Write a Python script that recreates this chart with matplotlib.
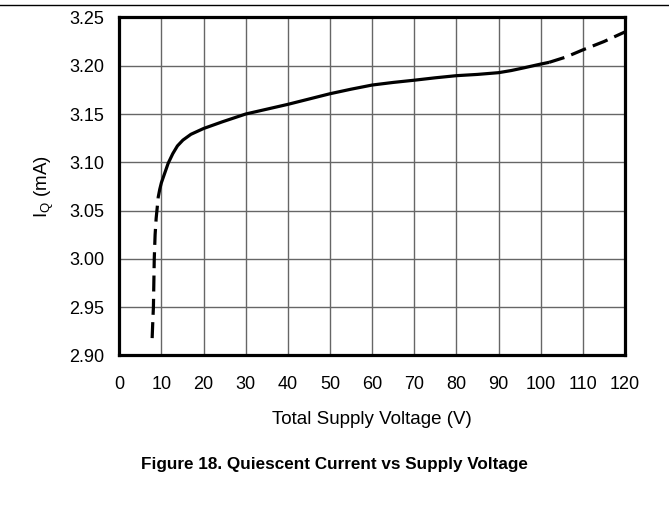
import matplotlib
matplotlib.use("Agg")
import matplotlib.pyplot as plt
from matplotlib.lines import Line2D

plt.rcParams['font.family'] = ['Liberation Sans', 'DejaVu Sans']

# Data
v_low = [7.8, 7.95, 8.1, 8.3, 8.5, 8.75, 9.0, 9.2]
i_low = [2.918, 2.935, 2.95, 3.00, 3.025, 3.042, 3.053, 3.063]

v_mid = [9.2, 9.6, 10.0, 10.4, 10.8, 11.6, 12.7, 13.8, 15.1, 17.0, 20, 24.5, 30, 35, 40,
         45, 50, 55, 60, 65, 70, 75, 80, 85, 90, 93, 96, 100, 102]
i_mid = [3.063, 3.072, 3.079, 3.084, 3.089, 3.099, 3.109, 3.117, 3.123, 3.129, 3.135,
         3.142, 3.150, 3.155, 3.160, 3.1655, 3.171, 3.1757, 3.180, 3.1827, 3.185, 3.1875,
         3.1897, 3.191, 3.1928, 3.1950, 3.1978, 3.2017, 3.2035]

v_high = [102, 106, 110, 115, 120]
i_high = [3.2035, 3.209, 3.2164, 3.225, 3.235]

x_ticks = list(range(0, 121, 10))
y_ticks = [2.90, 2.95, 3.00, 3.05, 3.10, 3.15, 3.20, 3.25]

fig = plt.figure(figsize=(6.69, 5.08), dpi=100)
ax = fig.add_axes([0.1783, 0.3002, 0.9342 - 0.1783, 0.9657 - 0.3002])

ax.plot(v_mid, i_mid, color='black', lw=2.3, solid_capstyle='butt', solid_joinstyle='round')
ax.plot(v_low, i_low, color='black', lw=2.3, dashes=(5, 2.3))
ax.plot(v_high, i_high, color='black', lw=2.3, dashes=(5, 2.3))

ax.set_xlim(0, 120)
ax.set_ylim(2.90, 3.25)
ax.set_xticks(x_ticks)
ax.set_yticks(y_ticks)
ax.set_xticklabels([str(t) for t in x_ticks])
ax.set_yticklabels([f"{t:.2f}" for t in y_ticks])
ax.grid(True, color='#666666', lw=1.0)
ax.set_axisbelow(True)
ax.tick_params(length=0, labelsize=13)
ax.tick_params(axis='x', pad=15)
ax.tick_params(axis='y', pad=11)
for s in ax.spines.values():
    s.set_linewidth(2.3)
    s.set_color('black')

ax.set_xlabel('Total Supply Voltage (V)', fontsize=13.5, labelpad=13)
ax.set_ylabel(r'I$_\mathregular{Q}$ (mA)', fontsize=13.5, labelpad=9)

fig.text(0.5, 1 - 465 / 508, 'Figure 18. Quiescent Current vs Supply Voltage',
         ha='center', va='center', fontsize=12.3, fontweight='bold')

fig.add_artist(Line2D([0, 1], [1 - 5 / 508, 1 - 5 / 508], color='black', lw=1.0,
                      transform=fig.transFigure))

fig.savefig('out.png', dpi=100)
